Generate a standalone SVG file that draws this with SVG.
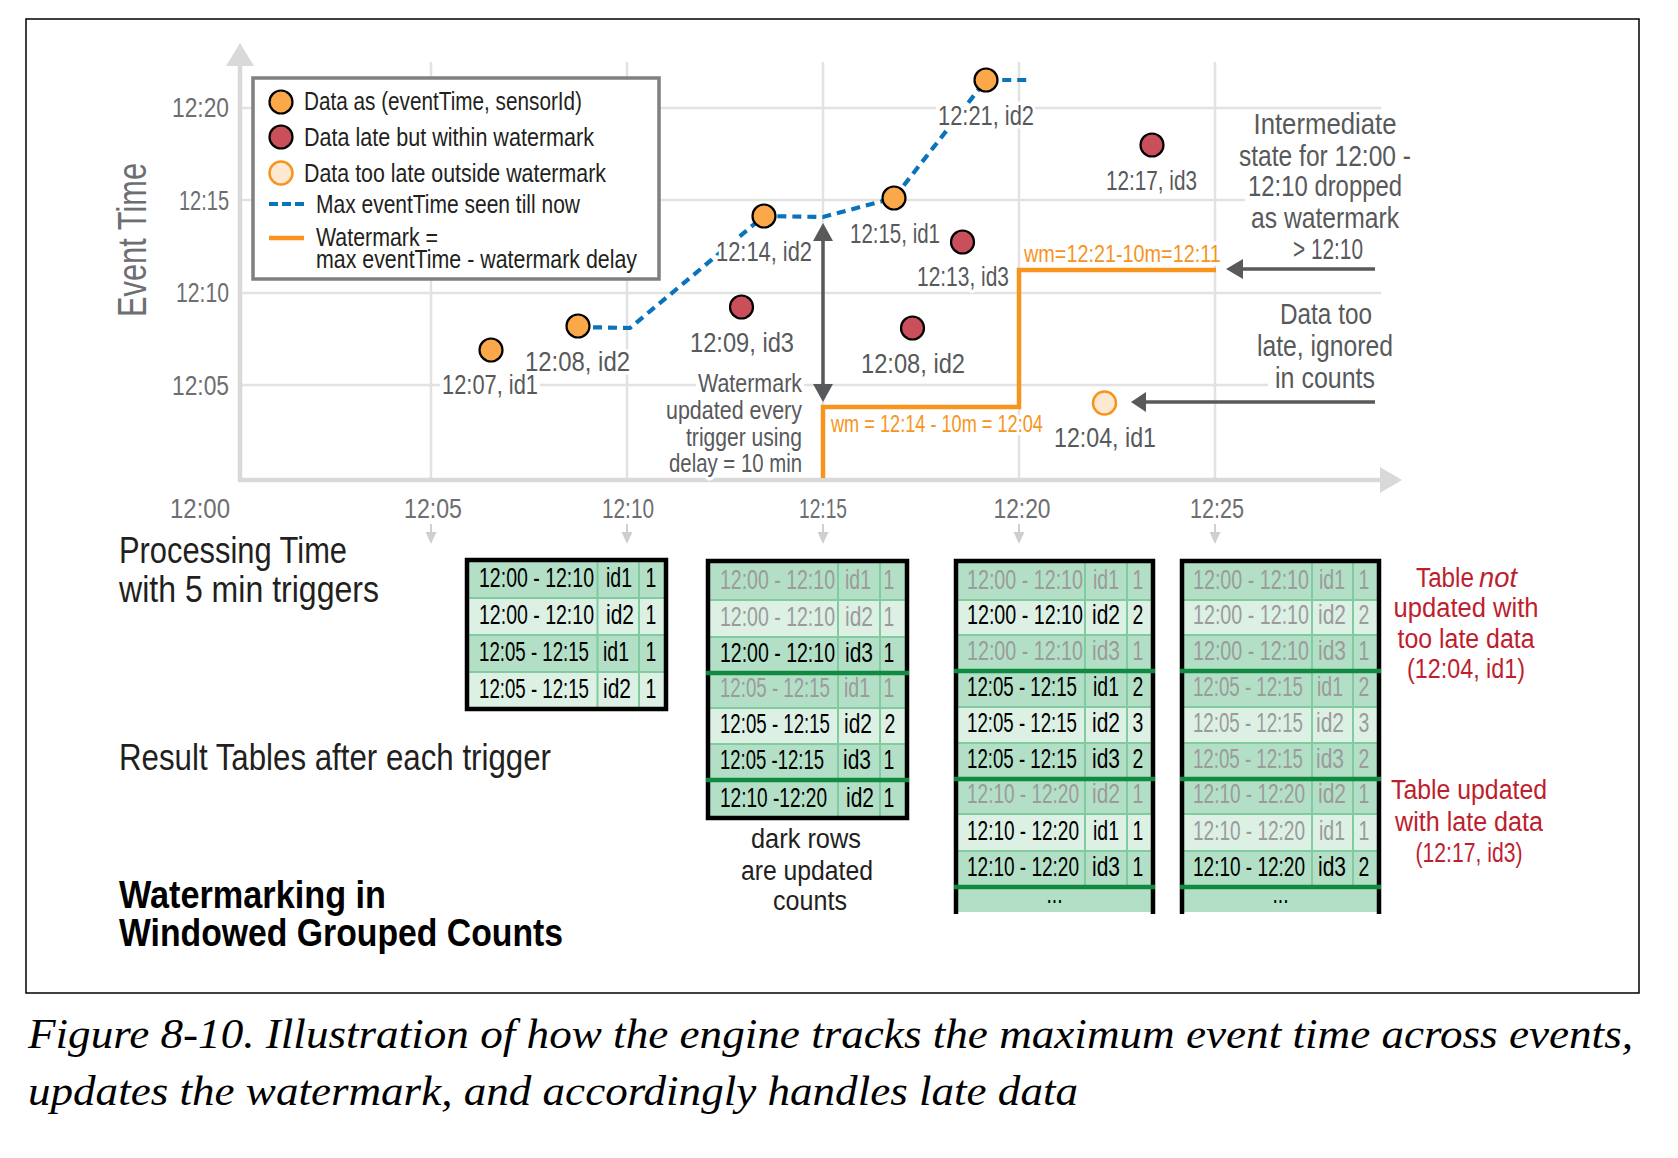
<svg xmlns="http://www.w3.org/2000/svg" width="1678" height="1158" viewBox="0 0 1678 1158">
<style>
text{font-family:"Liberation Sans",Arial,sans-serif}
.ax{fill:#6d6e71;font-size:28px}
.lg{fill:#231f20;font-size:26px}
.dl{fill:#58595b;font-size:27px}
.halo{paint-order:stroke;stroke:#fff;stroke-width:7px;stroke-linejoin:round}
.an{fill:#58595b;font-size:26px;text-anchor:end}
.ra{fill:#58595b;font-size:29px;text-anchor:middle}
.wm{fill:#f7941d;font-size:24px}
.tb{font-size:27px}
.k{fill:#000}
.s{fill:#9b9b9b}
.m{text-anchor:middle}
.red{fill:#be1e2d;font-size:27px;text-anchor:middle}
.big{fill:#231f20;font-size:37px}
.bold{fill:#000;font-size:39px;font-weight:bold}
.ev{font-size:40px;fill:#6d6e71}
.cap{font-family:"Liberation Serif","Times New Roman",serif;font-style:italic;font-size:42px;fill:#000}
.grid{stroke:#e2e2e2;stroke-width:2.5;fill:none}
.axis{stroke:#d9d9d9;stroke-width:4.5}
.axf{fill:#d9d9d9}
.tick{stroke:#cfcfcf;stroke-width:2}
.tickf{fill:#cfcfcf}
.dk{fill:#b3dfc6}
.lt{fill:#dcf0e4}
.sep{stroke:#80cca0;stroke-width:2;fill:none}
.thick{stroke:#0f8a40;stroke-width:4.5;fill:none}
.bd{stroke:#000;stroke-width:4.5;fill:none}
.o{fill:#faa84a;stroke:#000;stroke-width:2.2}
.r{fill:#c9505b;stroke:#000;stroke-width:2.2}
.p{fill:#fde8d2;stroke:#f7941d;stroke-width:2.5}
.blue{stroke:#0b72bc;stroke-width:4.2;stroke-dasharray:9 6;fill:none}
.orange{stroke:#f7941d;stroke-width:4.5;fill:none}
.darr{stroke:#58595b;stroke-width:3.5;fill:none}
.darrf{fill:#58595b}
</style>
<rect x="0" y="0" width="1678" height="1158" fill="#fff"/>
<rect x="26" y="19" width="1613" height="974" fill="none" stroke="#000" stroke-width="1.5"/>

<g id="grid">
<path class="grid" d="M431 62V480M627 62V480M823 62V480M1019 62V480M1215 62V480"/>
<path class="grid" d="M240 108H936M1035 108H1381M240 200H1245M240 293H1381M240 385H440M540 385H696M804 385H1268"/>
</g>

<g id="axes">
<line class="axis" x1="240" y1="64" x2="240" y2="482"/>
<polygon class="axf" points="226,66 240,43 254,66"/>
<line class="axis" x1="238" y1="480" x2="1382" y2="480"/>
<polygon class="axf" points="1380,467 1402,480 1380,493"/>
<text class="ax" x="229" y="117" text-anchor="end" textLength="57" lengthAdjust="spacingAndGlyphs">12:20</text>
<text class="ax" x="229" y="210" text-anchor="end" textLength="50" lengthAdjust="spacingAndGlyphs">12:15</text>
<text class="ax" x="229" y="302" text-anchor="end" textLength="53" lengthAdjust="spacingAndGlyphs">12:10</text>
<text class="ax" x="229" y="395" text-anchor="end" textLength="57" lengthAdjust="spacingAndGlyphs">12:05</text>
<text class="ax" x="200" y="518" text-anchor="middle" textLength="60" lengthAdjust="spacingAndGlyphs">12:00</text>
<text class="ax" x="433" y="518" text-anchor="middle" textLength="58" lengthAdjust="spacingAndGlyphs">12:05</text>
<text class="ax" x="628" y="518" text-anchor="middle" textLength="52" lengthAdjust="spacingAndGlyphs">12:10</text>
<text class="ax" x="823" y="518" text-anchor="middle" textLength="48" lengthAdjust="spacingAndGlyphs">12:15</text>
<text class="ax" x="1022" y="518" text-anchor="middle" textLength="57" lengthAdjust="spacingAndGlyphs">12:20</text>
<text class="ax" x="1217" y="518" text-anchor="middle" textLength="54" lengthAdjust="spacingAndGlyphs">12:25</text>
<text class="ev" transform="translate(146,240) rotate(-90)" x="0" y="0" text-anchor="middle" textLength="154" lengthAdjust="spacingAndGlyphs">Event Time</text>
<path class="tick" d="M431 524V535M627 524V535M823 524V535M1019 524V535M1215 524V535"/>
<polygon class="tickf" points="425.5,532 436.5,532 431,544"/>
<polygon class="tickf" points="621.5,532 632.5,532 627,544"/>
<polygon class="tickf" points="817.5,532 828.5,532 823,544"/>
<polygon class="tickf" points="1013.5,532 1024.5,532 1019,544"/>
<polygon class="tickf" points="1209.5,532 1220.5,532 1215,544"/>
</g>

<g id="connectors">
<path class="orange" d="M823 478V407H1019V270H1216"/>
<path class="blue" d="M578 327L630 328L764 216L823 217L894 198L986 80L1028 80"/>
<line class="darr" x1="823" y1="238" x2="823" y2="387"/>
<polygon class="darrf" points="813,241 823,223 833,241"/>
<polygon class="darrf" points="813,384 823,402 833,384"/>
<line class="darr" x1="1240" y1="269" x2="1375" y2="269"/>
<polygon class="darrf" points="1243,259 1226,269 1243,279"/>
<line class="darr" x1="1143" y1="402" x2="1375" y2="402"/>
<polygon class="darrf" points="1146,392 1131,402 1146,412"/>
</g>

<g id="watermark-labels">
<text class="wm halo" transform="translate(831,432) scale(0.757 1)" x="0" y="0" textLength="280" lengthAdjust="spacingAndGlyphs">wm = 12:14 - 10m = 12:04</text>
<text class="wm halo" transform="translate(1024,262) scale(0.82 1)" x="0" y="0" textLength="240" lengthAdjust="spacingAndGlyphs">wm=12:21-10m=12:11</text>
</g>

<g id="pt-1207-id1"><circle class="o" cx="491" cy="350" r="11.5"/><text class="dl halo" x="442" y="394" textLength="96" lengthAdjust="spacingAndGlyphs">12:07, id1</text></g>
<g id="pt-1208-id2"><circle class="o" cx="578" cy="326" r="11.5"/><text class="dl halo" x="525" y="371" textLength="105" lengthAdjust="spacingAndGlyphs">12:08, id2</text></g>
<g id="pt-1214-id2"><circle class="o" cx="764" cy="216" r="11.5"/><text class="dl halo" x="716" y="261" textLength="96" lengthAdjust="spacingAndGlyphs">12:14, id2</text></g>
<g id="pt-1215-id1"><circle class="o" cx="894" cy="198" r="11.5"/><text class="dl halo" x="850" y="243" textLength="90" lengthAdjust="spacingAndGlyphs">12:15, id1</text></g>
<g id="pt-1221-id2"><circle class="o" cx="986" cy="80" r="11.5"/><text class="dl halo" x="938" y="125" textLength="96" lengthAdjust="spacingAndGlyphs">12:21, id2</text></g>
<g id="pt-1209-id3"><circle class="r" cx="741.5" cy="307" r="11.5"/><text class="dl halo" x="690" y="352" textLength="104" lengthAdjust="spacingAndGlyphs">12:09, id3</text></g>
<g id="pt-1213-id3"><circle class="r" cx="962.5" cy="242" r="11.5"/><text class="dl halo" x="917" y="286" textLength="92" lengthAdjust="spacingAndGlyphs">12:13, id3</text></g>
<g id="pt-1208-id2-late"><circle class="r" cx="912.5" cy="328" r="11.5"/><text class="dl halo" x="861" y="373" textLength="104" lengthAdjust="spacingAndGlyphs">12:08, id2</text></g>
<g id="pt-1217-id3"><circle class="r" cx="1152" cy="145" r="11.5"/><text class="dl halo" x="1106" y="190" textLength="91" lengthAdjust="spacingAndGlyphs">12:17, id3</text></g>
<g id="pt-1204-id1"><circle class="p" cx="1104.5" cy="403" r="11.5"/><text class="dl halo" x="1054" y="447" textLength="102" lengthAdjust="spacingAndGlyphs">12:04, id1</text></g>

<g id="legend">
<rect x="253" y="78" width="406" height="201" fill="#fff" stroke="#808080" stroke-width="3.5"/>
<circle class="o" cx="281" cy="102" r="11.5"/>
<circle class="r" cx="281" cy="137" r="11.5"/>
<circle class="p" cx="281" cy="173" r="11.5"/>
<line class="blue" x1="269" y1="204" x2="305" y2="204" style="stroke-dasharray:9 4"/>
<line class="orange" x1="269" y1="238" x2="304" y2="238"/>
<text class="lg" x="304" y="110" textLength="278" lengthAdjust="spacingAndGlyphs">Data as (eventTime, sensorId)</text>
<text class="lg" x="304" y="146" textLength="290" lengthAdjust="spacingAndGlyphs">Data late but within watermark</text>
<text class="lg" x="304" y="182" textLength="302" lengthAdjust="spacingAndGlyphs">Data too late outside watermark</text>
<text class="lg" x="316" y="213" textLength="264" lengthAdjust="spacingAndGlyphs">Max eventTime seen till now</text>
<text class="lg"><tspan x="316" y="246" textLength="122" lengthAdjust="spacingAndGlyphs">Watermark =</tspan><tspan x="316" y="268" textLength="321" lengthAdjust="spacingAndGlyphs">max eventTime - watermark delay</tspan></text>
</g>

<g id="note-watermark">
<text class="an halo"><tspan x="802" y="392" textLength="104" lengthAdjust="spacingAndGlyphs">Watermark</tspan><tspan x="802" y="419" textLength="136" lengthAdjust="spacingAndGlyphs">updated every</tspan><tspan x="802" y="446" textLength="116" lengthAdjust="spacingAndGlyphs">trigger using</tspan><tspan x="802" y="472" textLength="133" lengthAdjust="spacingAndGlyphs">delay = 10 min</tspan></text>
</g>

<g id="note-intermediate">
<text class="ra" x="1325" y="134" textLength="143" lengthAdjust="spacingAndGlyphs">Intermediate</text>
<text class="ra" x="1325" y="166" textLength="172" lengthAdjust="spacingAndGlyphs">state for 12:00 -</text>
<text class="ra" x="1325" y="196" textLength="154" lengthAdjust="spacingAndGlyphs">12:10 dropped</text>
<text class="ra" x="1325" y="228" textLength="148" lengthAdjust="spacingAndGlyphs">as watermark</text>
<text class="ra" x="1328" y="259" textLength="70" lengthAdjust="spacingAndGlyphs">&gt; 12:10</text>
</g>
<g id="note-too-late">
<text class="ra halo" x="1326" y="324" textLength="92" lengthAdjust="spacingAndGlyphs">Data too</text>
<text class="ra halo" x="1325" y="356" textLength="136" lengthAdjust="spacingAndGlyphs">late, ignored</text>
<text class="ra halo" x="1325" y="388" textLength="100" lengthAdjust="spacingAndGlyphs">in counts</text>
</g>

<g id="titles">
<text class="big"><tspan x="119" y="563" textLength="228" lengthAdjust="spacingAndGlyphs">Processing Time</tspan><tspan x="119" y="602" textLength="260" lengthAdjust="spacingAndGlyphs">with 5 min triggers</tspan></text>
<text class="big" x="119" y="770" textLength="432" lengthAdjust="spacingAndGlyphs">Result Tables after each trigger</text>
<text class="bold"><tspan x="119" y="908" textLength="267" lengthAdjust="spacingAndGlyphs">Watermarking in</tspan><tspan x="119" y="946" textLength="444" lengthAdjust="spacingAndGlyphs">Windowed Grouped Counts</tspan></text>
</g>

<g id="table-1">
<rect class="dk" x="467" y="560" width="199" height="38"/>
<rect class="lt" x="467" y="598" width="199" height="37"/>
<rect class="dk" x="467" y="635" width="199" height="37"/>
<rect class="lt" x="467" y="672" width="199" height="37"/>
<path class="sep" d="M467 598H666M467 635H666M467 672H666M597.5 560V709M639 560V709"/>
<rect class="bd" x="467" y="560" width="199" height="149"/>
<g class="tb k" transform="scale(0.72 1)">
<text x="665.28" y="587" textLength="159.72" lengthAdjust="spacingAndGlyphs">12:00 - 12:10</text><text class="m" x="859.72" y="587" textLength="36.11" lengthAdjust="spacingAndGlyphs">id1</text><text class="m" x="904.17" y="587">1</text>
<text x="665.28" y="624" textLength="159.72" lengthAdjust="spacingAndGlyphs">12:00 - 12:10</text><text class="m" x="861.11" y="624" textLength="38.89" lengthAdjust="spacingAndGlyphs">id2</text><text class="m" x="904.17" y="624">1</text>
<text x="665.28" y="661" textLength="152.78" lengthAdjust="spacingAndGlyphs">12:05 - 12:15</text><text class="m" x="855.56" y="661" textLength="36.11" lengthAdjust="spacingAndGlyphs">id1</text><text class="m" x="904.17" y="661">1</text>
<text x="665.28" y="698" textLength="152.78" lengthAdjust="spacingAndGlyphs">12:05 - 12:15</text><text class="m" x="856.94" y="698" textLength="38.89" lengthAdjust="spacingAndGlyphs">id2</text><text class="m" x="904.17" y="698">1</text>
</g>
</g>

<g id="table-2">
<rect class="dk" x="708" y="561" width="199" height="39"/>
<rect class="lt" x="708" y="600" width="199" height="37"/>
<rect class="dk" x="708" y="637" width="199" height="36"/>
<rect class="dk" x="708" y="673" width="199" height="35"/>
<rect class="lt" x="708" y="708" width="199" height="36"/>
<rect class="dk" x="708" y="744" width="199" height="36"/>
<rect class="dk" x="708" y="780" width="199" height="38"/>
<path class="sep" d="M708 600H907M708 637H907M708 708H907M708 744H907M838 561V818M880 561V818"/>
<rect class="bd" x="708" y="561" width="199" height="257"/>
<path class="thick" d="M706 673H909M706 780H909"/>
<g class="tb" transform="scale(0.72 1)">
<text class="s" x="1000" y="589" textLength="159.72" lengthAdjust="spacingAndGlyphs">12:00 - 12:10</text><text class="s m" x="1191.67" y="589" textLength="36.11" lengthAdjust="spacingAndGlyphs">id1</text><text class="s m" x="1234.72" y="589">1</text>
<text class="s" x="1000" y="626" textLength="159.72" lengthAdjust="spacingAndGlyphs">12:00 - 12:10</text><text class="s m" x="1193.06" y="626" textLength="38.89" lengthAdjust="spacingAndGlyphs">id2</text><text class="s m" x="1234.72" y="626">1</text>
<text class="k" x="1000" y="662" textLength="159.72" lengthAdjust="spacingAndGlyphs">12:00 - 12:10</text><text class="k m" x="1193.06" y="662" textLength="38.89" lengthAdjust="spacingAndGlyphs">id3</text><text class="k m" x="1234.72" y="662">1</text>
<text class="s" x="1000" y="697" textLength="152.78" lengthAdjust="spacingAndGlyphs">12:05 - 12:15</text><text class="s m" x="1190.28" y="697" textLength="36.11" lengthAdjust="spacingAndGlyphs">id1</text><text class="s m" x="1234.72" y="697">1</text>
<text class="k" x="1000" y="733" textLength="152.78" lengthAdjust="spacingAndGlyphs">12:05 - 12:15</text><text class="k m" x="1191.67" y="733" textLength="38.89" lengthAdjust="spacingAndGlyphs">id2</text><text class="k m" x="1236.11" y="733">2</text>
<text class="k" x="1000" y="769" textLength="144.44" lengthAdjust="spacingAndGlyphs">12:05 -12:15</text><text class="k m" x="1190.28" y="769" textLength="38.89" lengthAdjust="spacingAndGlyphs">id3</text><text class="k m" x="1234.72" y="769">1</text>
<text class="k" x="1000" y="807" textLength="148.61" lengthAdjust="spacingAndGlyphs">12:10 -12:20</text><text class="k m" x="1194.44" y="807" textLength="38.89" lengthAdjust="spacingAndGlyphs">id2</text><text class="k m" x="1234.72" y="807">1</text>
</g>
</g>

<g id="table-3">
<rect class="dk" x="956" y="561" width="197" height="39"/>
<rect class="lt" x="956" y="600" width="197" height="35"/>
<rect class="dk" x="956" y="635" width="197" height="36"/>
<rect class="dk" x="956" y="671" width="197" height="36"/>
<rect class="lt" x="956" y="707" width="197" height="36"/>
<rect class="dk" x="956" y="743" width="197" height="36"/>
<rect class="dk" x="956" y="779" width="197" height="35"/>
<rect class="lt" x="956" y="814" width="197" height="37"/>
<rect class="dk" x="956" y="851" width="197" height="36"/>
<rect class="dk" x="956" y="887" width="197" height="25"/>
<path class="sep" d="M956 600H1153M956 635H1153M956 707H1153M956 743H1153M956 814H1153M956 851H1153M1085 561V887M1127 561V887"/>
<path class="bd" d="M956 914V561H1153V914"/>
<path class="thick" d="M954 671H1155M954 779H1155M954 887H1155"/>
<g class="tb" transform="scale(0.72 1)">
<text class="s" x="1343.06" y="589" textLength="161.11" lengthAdjust="spacingAndGlyphs">12:00 - 12:10</text><text class="s m" x="1536.11" y="589" textLength="36.11" lengthAdjust="spacingAndGlyphs">id1</text><text class="s m" x="1580.56" y="589">1</text>
<text class="k" x="1343.06" y="624" textLength="161.11" lengthAdjust="spacingAndGlyphs">12:00 - 12:10</text><text class="k m" x="1536.11" y="624" textLength="38.89" lengthAdjust="spacingAndGlyphs">id2</text><text class="k m" x="1580.56" y="624">2</text>
<text class="s" x="1343.06" y="660" textLength="161.11" lengthAdjust="spacingAndGlyphs">12:00 - 12:10</text><text class="s m" x="1536.11" y="660" textLength="38.89" lengthAdjust="spacingAndGlyphs">id3</text><text class="s m" x="1580.56" y="660">1</text>
<text class="k" x="1343.06" y="696" textLength="152.78" lengthAdjust="spacingAndGlyphs">12:05 - 12:15</text><text class="k m" x="1536.11" y="696" textLength="36.11" lengthAdjust="spacingAndGlyphs">id1</text><text class="k m" x="1580.56" y="696">2</text>
<text class="k" x="1343.06" y="732" textLength="152.78" lengthAdjust="spacingAndGlyphs">12:05 - 12:15</text><text class="k m" x="1536.11" y="732" textLength="38.89" lengthAdjust="spacingAndGlyphs">id2</text><text class="k m" x="1580.56" y="732">3</text>
<text class="k" x="1343.06" y="768" textLength="152.78" lengthAdjust="spacingAndGlyphs">12:05 - 12:15</text><text class="k m" x="1536.11" y="768" textLength="38.89" lengthAdjust="spacingAndGlyphs">id3</text><text class="k m" x="1580.56" y="768">2</text>
<text class="s" x="1343.06" y="803" textLength="155.56" lengthAdjust="spacingAndGlyphs">12:10 - 12:20</text><text class="s m" x="1536.11" y="803" textLength="38.89" lengthAdjust="spacingAndGlyphs">id2</text><text class="s m" x="1580.56" y="803">1</text>
<text class="k" x="1343.06" y="840" textLength="155.56" lengthAdjust="spacingAndGlyphs">12:10 - 12:20</text><text class="k m" x="1536.11" y="840" textLength="36.11" lengthAdjust="spacingAndGlyphs">id1</text><text class="k m" x="1580.56" y="840">1</text>
<text class="k" x="1343.06" y="876" textLength="155.56" lengthAdjust="spacingAndGlyphs">12:10 - 12:20</text><text class="k m" x="1536.11" y="876" textLength="38.89" lengthAdjust="spacingAndGlyphs">id3</text><text class="k m" x="1580.56" y="876">1</text>
<text class="k m" x="1464.58" y="903">...</text>
</g>
</g>

<g id="table-4">
<rect class="dk" x="1182" y="561" width="197" height="39"/>
<rect class="lt" x="1182" y="600" width="197" height="35"/>
<rect class="dk" x="1182" y="635" width="197" height="36"/>
<rect class="dk" x="1182" y="671" width="197" height="36"/>
<rect class="lt" x="1182" y="707" width="197" height="36"/>
<rect class="dk" x="1182" y="743" width="197" height="36"/>
<rect class="dk" x="1182" y="779" width="197" height="35"/>
<rect class="lt" x="1182" y="814" width="197" height="37"/>
<rect class="dk" x="1182" y="851" width="197" height="36"/>
<rect class="dk" x="1182" y="887" width="197" height="25"/>
<path class="sep" d="M1182 600H1379M1182 635H1379M1182 707H1379M1182 743H1379M1182 814H1379M1182 851H1379M1312 561V887M1353 561V887"/>
<path class="bd" d="M1182 914V561H1379V914"/>
<path class="thick" d="M1180 671H1381M1180 779H1381M1180 887H1381"/>
<g class="tb" transform="scale(0.72 1)">
<text class="s" x="1656.94" y="589" textLength="161.11" lengthAdjust="spacingAndGlyphs">12:00 - 12:10</text><text class="s m" x="1850" y="589" textLength="36.11" lengthAdjust="spacingAndGlyphs">id1</text><text class="s m" x="1894.44" y="589">1</text>
<text class="s" x="1656.94" y="624" textLength="161.11" lengthAdjust="spacingAndGlyphs">12:00 - 12:10</text><text class="s m" x="1850" y="624" textLength="38.89" lengthAdjust="spacingAndGlyphs">id2</text><text class="s m" x="1894.44" y="624">2</text>
<text class="s" x="1656.94" y="660" textLength="161.11" lengthAdjust="spacingAndGlyphs">12:00 - 12:10</text><text class="s m" x="1850" y="660" textLength="38.89" lengthAdjust="spacingAndGlyphs">id3</text><text class="s m" x="1894.44" y="660">1</text>
<text class="s" x="1656.94" y="696" textLength="152.78" lengthAdjust="spacingAndGlyphs">12:05 - 12:15</text><text class="s m" x="1847.22" y="696" textLength="36.11" lengthAdjust="spacingAndGlyphs">id1</text><text class="s m" x="1894.44" y="696">2</text>
<text class="s" x="1656.94" y="732" textLength="152.78" lengthAdjust="spacingAndGlyphs">12:05 - 12:15</text><text class="s m" x="1847.22" y="732" textLength="38.89" lengthAdjust="spacingAndGlyphs">id2</text><text class="s m" x="1894.44" y="732">3</text>
<text class="s" x="1656.94" y="768" textLength="152.78" lengthAdjust="spacingAndGlyphs">12:05 - 12:15</text><text class="s m" x="1847.22" y="768" textLength="38.89" lengthAdjust="spacingAndGlyphs">id3</text><text class="s m" x="1894.44" y="768">2</text>
<text class="s" x="1656.94" y="803" textLength="155.56" lengthAdjust="spacingAndGlyphs">12:10 - 12:20</text><text class="s m" x="1850" y="803" textLength="38.89" lengthAdjust="spacingAndGlyphs">id2</text><text class="s m" x="1894.44" y="803">1</text>
<text class="s" x="1656.94" y="840" textLength="155.56" lengthAdjust="spacingAndGlyphs">12:10 - 12:20</text><text class="s m" x="1850" y="840" textLength="36.11" lengthAdjust="spacingAndGlyphs">id1</text><text class="s m" x="1894.44" y="840">1</text>
<text class="k" x="1656.94" y="876" textLength="155.56" lengthAdjust="spacingAndGlyphs">12:10 - 12:20</text><text class="k m" x="1850" y="876" textLength="38.89" lengthAdjust="spacingAndGlyphs">id3</text><text class="k m" x="1894.44" y="876">2</text>
<text class="k m" x="1778.47" y="903">...</text>
</g>
</g>

<g id="note-dark-rows">
<text class="lg m" x="806" y="848" style="font-size:27px" textLength="110" lengthAdjust="spacingAndGlyphs">dark rows</text>
<text class="lg m" x="807" y="880" style="font-size:27px" textLength="132" lengthAdjust="spacingAndGlyphs">are updated</text>
<text class="lg m" x="810" y="910" style="font-size:27px" textLength="74" lengthAdjust="spacingAndGlyphs">counts</text>
</g>

<g id="note-not-updated">
<text class="red" x="1416" y="587" style="text-anchor:start"><tspan textLength="58" lengthAdjust="spacingAndGlyphs">Table</tspan><tspan x="1479" font-style="italic" textLength="38" lengthAdjust="spacingAndGlyphs">not</tspan></text>
<text class="red" x="1466" y="617" textLength="145" lengthAdjust="spacingAndGlyphs">updated with</text>
<text class="red" x="1466" y="648" textLength="137" lengthAdjust="spacingAndGlyphs">too late data</text>
<text class="red" x="1466" y="678" textLength="118" lengthAdjust="spacingAndGlyphs">(12:04, id1)</text>
</g>
<g id="note-updated">
<text class="red" x="1469" y="799" textLength="156" lengthAdjust="spacingAndGlyphs">Table updated</text>
<text class="red" x="1469" y="831" textLength="148" lengthAdjust="spacingAndGlyphs">with late data</text>
<text class="red" x="1469" y="862" textLength="107" lengthAdjust="spacingAndGlyphs">(12:17, id3)</text>
</g>

<g id="caption">
<text class="cap" x="28" y="1048" textLength="1605" lengthAdjust="spacingAndGlyphs">Figure 8-10. Illustration of how the engine tracks the maximum event time across events,</text>
<text class="cap" x="28" y="1105" textLength="1050" lengthAdjust="spacingAndGlyphs">updates the watermark, and accordingly handles late data</text>
</g>
</svg>
